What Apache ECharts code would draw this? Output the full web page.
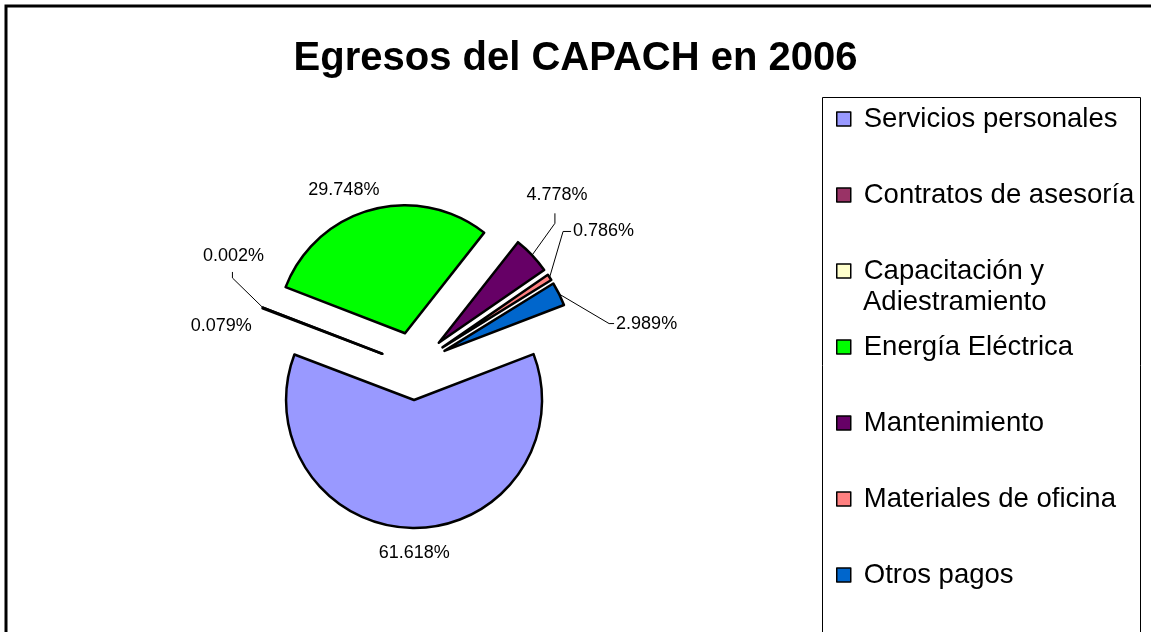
<!DOCTYPE html>
<html>
<head>
<meta charset="utf-8">
<title>Egresos del CAPACH en 2006</title>
<script src="https://cdn.jsdelivr.net/npm/echarts@6/dist/echarts.min.js"></script>
<style>
html, body { margin: 0; padding: 0; background: #fff; }
#egresos { width: 1151px; height: 632px; }
</style>
</head>
<body>
<div id="egresos"></div>
<script>
// datos del grafico
const conceptos = ['Servicios personales', 'Contratos de asesoría', 'Capacitación y Adiestramiento', 'Energía Eléctrica', 'Mantenimiento', 'Materiales de oficina', 'Otros pagos'];
const porcentajes = [61.618, 0.079, 0.002, 29.748, 4.778, 0.786, 2.989];
const colores = ['#9999FF', '#993366', '#FFFFCC', '#00FF00', '#660066', '#FF8080', '#0066CC'];

// guias de las etiquetas: [length, length2, visible]
const guias = [[25, 0, false], [0, 6, false], [38, 0, true], [20, 17, false], [45, 0, true], [40, 8, true], [10, 40, true]];
// ajuste fino de cada etiqueta [dx, dy]
const ajustes = [[-5, 0], [0, 9], [11, -29], [0, 0], [-13, -20], [-23, -24], [3, 34]];
// quiebre y final de la guia, relativos a la etiqueta
const quiebres = {
    2: [[-1, 13], [-1, 7]],
    4: [[-2, 19], [-2, 9]],
    5: [[-10, 0], [-2, 0]],
    6: [[-7, 0], [-2, 0]]
};

const fuente = '"Liberation Sans", Arial, sans-serif';

const chart = echarts.init(document.getElementById('egresos'));

const option = {
    backgroundColor: '#fff',
    animation: false,
    title: {
        text: 'Egresos del CAPACH en 2006',
        left: 'center',
        top: 39,
        padding: 0,
        textStyle: {
            fontFamily: fuente,
            fontSize: 40,
            fontWeight: 'bold',
            color: '#000'
        }
    },
    legend: {
        orient: 'vertical',
        left: 836,
        top: 103,
        padding: 0,
        icon: 'rect',
        itemWidth: 14,
        itemHeight: 14,
        itemGap: 44,
        selectedMode: false,
        itemStyle: {
            borderColor: '#000',
            borderWidth: 1.5
        },
        textStyle: {
            fontFamily: fuente,
            fontSize: 27.5,
            color: '#000',
            lineHeight: 32,
            padding: [0, 0, 0, 8]
        },
        formatter: function (name) {
            // la segunda linea se escribe aparte para no romper el paso
            return name === 'Capacitación y Adiestramiento' ? 'Capacitación y' : name;
        },
        data: conceptos
    },
    graphic: [{
        type: 'rect',
        shape: { x: 6, y: 6, width: 1200, height: 700 },
        style: { fill: 'none', stroke: '#000', lineWidth: 3 },
        silent: true
    }, {
        type: 'rect',
        shape: { x: 822.5, y: 97.5, width: 318, height: 600 },
        style: { fill: 'none', stroke: '#000', lineWidth: 1 },
        silent: true
    }, {
        type: 'text',
        x: 863,
        y: 302,
        silent: true,
        style: {
            text: 'Adiestramiento',
            font: '27.5px "Liberation Sans", Arial, sans-serif',
            fill: '#000',
            verticalAlign: 'middle'
        }
    }],
    series: [{
        type: 'pie',
        center: [414, 366],
        radius: 128,
        startAngle: 21,
        clockwise: true,
        selectedMode: 'multiple',
        selectedOffset: 34,
        avoidLabelOverlap: false,
        emphasis: { disabled: true },
        itemStyle: {
            borderColor: '#000',
            borderWidth: 2.5
        },
        label: {
            show: true,
            position: 'outside',
            color: '#000',
            fontFamily: fuente,
            fontSize: 18,
            formatter: function (p) {
                return p.value.toFixed(3) + '%';
            }
        },
        labelLine: {
            lineStyle: { color: '#000', width: 1 }
        },
        labelLayout: function (p) {
            const i = p.dataIndex;
            const a = ajustes[i];
            const res = { dx: a[0], dy: a[1] };
            if (i === 0 || i === 3) {
                res.align = 'center';
            }
            if (i === 2 || i === 4) {
                res.align = 'center';
                res.verticalAlign = 'bottom';
            }
            if (i === 1) {
                res.verticalAlign = 'top';
            }
            const pts = p.labelLinePoints;
            if (quiebres[i] && pts) {
                const lado = pts[1][0] < pts[0][0] ? -1 : 1;
                const ax = pts[2][0] + 5 * lado + a[0];
                const ay = pts[2][1] + a[1];
                const q = quiebres[i];
                res.labelLinePoints = [
                    [pts[0][0], pts[0][1]],
                    [ax + q[0][0], ay + q[0][1]],
                    [ax + q[1][0], ay + q[1][1]]
                ];
            }
            return res;
        },
        data: conceptos.map(function (c, i) {
            return {
                name: c,
                value: porcentajes[i],
                selected: true,
                itemStyle: { color: colores[i] },
                labelLine: { show: guias[i][2], length: guias[i][0], length2: guias[i][1] }
            };
        })
    }]
};

chart.setOption(option);
</script>
</body>
</html>
